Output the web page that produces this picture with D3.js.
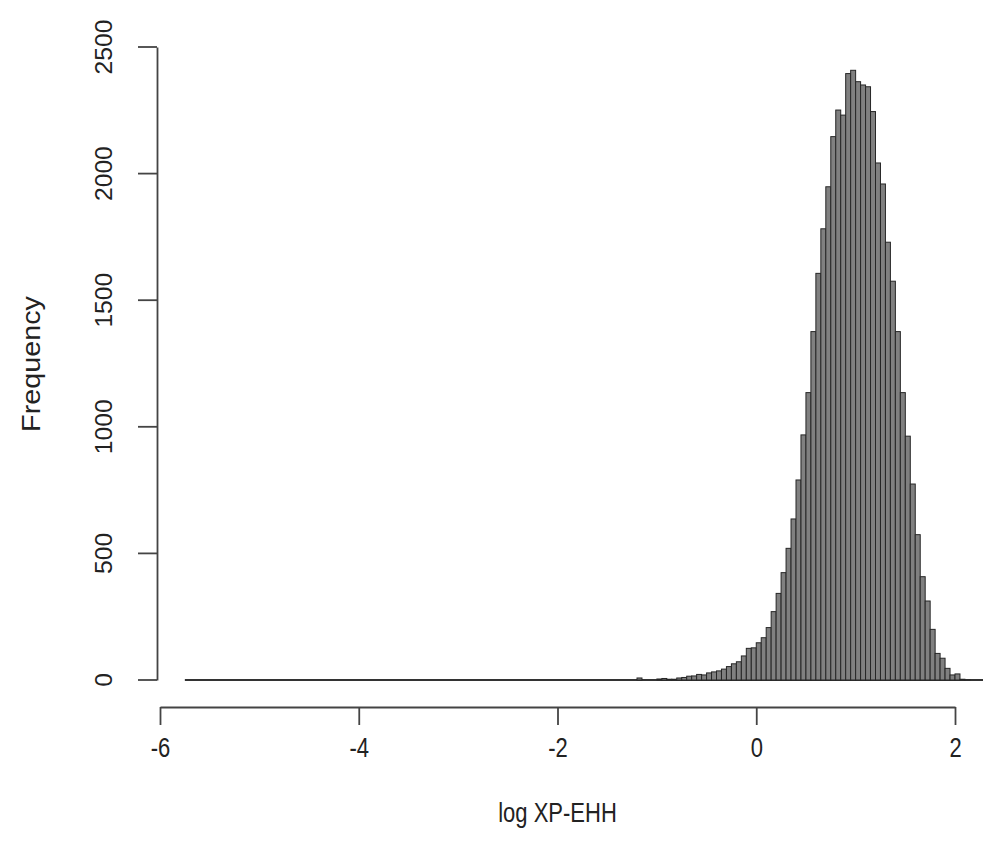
<!DOCTYPE html>
<meta charset="utf-8">
<head>
    <style>
        body {margin: 0; background: #fff;}
        text {fill: #222; font-family: "Liberation Sans", Arial, sans-serif;}
        .bar {fill: #808080; stroke: #262626; stroke-width: 1;}
        .axis line, .axis path {stroke: #444; stroke-width: 1.8; fill: none;}
    </style>
    <script src="https://d3js.org/d3.v7.min.js"></script>
</head>
<body>
</body>

<script>

    // lower edge of each non-empty bin (width 0.05)
    var binLow = [-1.2, -1.15, -1.1, -1.05, -1.0, -0.95, -0.9, -0.85, -0.8, -0.75,
        -0.7, -0.65, -0.6, -0.55, -0.5, -0.45, -0.4, -0.35, -0.3, -0.25,
        -0.2, -0.15, -0.1, -0.05, 0.0, 0.05, 0.1, 0.15, 0.2, 0.25,
        0.3, 0.35, 0.4, 0.45, 0.5, 0.55, 0.6, 0.65, 0.7, 0.75,
        0.8, 0.85, 0.9, 0.95, 1.0, 1.05, 1.1, 1.15, 1.2, 1.25,
        1.3, 1.35, 1.4, 1.45, 1.5, 1.55, 1.6, 1.65, 1.7, 1.75,
        1.8, 1.85, 1.9, 1.95, 2.0, 2.05, 2.1];

    var counts = [8, 0, 0, 0, 4, 6, 3, 3, 8, 10,
        15, 16, 22, 20, 28, 32, 36, 43, 53, 64,
        72, 95, 125, 127, 147, 167, 207, 270, 342, 424,
        520, 636, 790, 968, 1135, 1376, 1606, 1782, 1948, 2146,
        2251, 2231, 2395, 2408, 2363, 2350, 2343, 2245, 2042, 1959,
        1729, 1575, 1376, 1135, 963, 774, 574, 408, 312, 200,
        105, 86, 46, 20, 24, 3, 1];

    var binWidth = 0.05,
        histRange = [-5.75, 2.3];   // full span of breaks, empty bins drawn flat

    var xTicks = [-6, -4, -2, 0, 2],
        yTicks = [0, 500, 1000, 1500, 2000, 2500];

    var width = 983, height = 860,
        stretch = 1.25,    // text in the picture is taller than wide
        yStretch = 1.12;

    var x = d3.scaleLinear()
        .domain([-6, 2])
        .range([160, 955]);

    var y = d3.scaleLinear()
        .domain([0, 2500])
        .range([680, 47]);

    var svg = d3.select("body").append("svg")
        .attr("width", width)
        .attr("height", height)

    var bins = binLow.map(function(d, i) {return {x0: d, x1: d + binWidth, n: counts[i]}})

    // empty bins: zero height rects -> one flat line
    svg.append("line")
        .attr("x1", x(histRange[0]))
        .attr("x2", x(histRange[1]))
        .attr("y1", y(0))
        .attr("y2", y(0))
        .attr("stroke", "#333")
        .attr("stroke-width", 1.8)

    svg.append("g").selectAll("rect")
        .data(bins)
      .enter().append("rect")
        .attr("class", "bar")
        .attr("x", function(d) {return x(d.x0)})
        .attr("width", function(d) {return x(d.x1) - x(d.x0)})
        .attr("y", function(d) {return y(d.n)})
        .attr("height", function(d) {return y(0) - y(d.n)})

    var xAxis = svg.append("g")
        .attr("class", "axis")
        .attr("transform", "translate(0,707)")
        .call(d3.axisBottom(x).tickValues(xTicks).tickSize(18).tickSizeOuter(0))
    xAxis.selectAll("text")
        .attr("y", 0)
        .attr("dy", 0)
        .attr("transform", "translate(0,50) scale(1," + stretch + ")")
        .style("font-size", "22px")
        .style("fill", "#222")
        .text(function(d) {return d < 0 ? "-" + Math.abs(d) : d})

    var yAxis = svg.append("g")
        .attr("class", "axis")
        .attr("transform", "translate(157,0)")
        .call(d3.axisLeft(y).tickValues(yTicks).tickSize(19).tickSizeOuter(0).tickFormat(d3.format("d")))
    yAxis.selectAll(".tick").attr("transform", null)
    yAxis.selectAll(".tick line")
        .attr("y1", function(d) {return y(d)})
        .attr("y2", function(d) {return y(d)})
    yAxis.selectAll("text")
        .attr("x", 0)
        .attr("y", 0)
        .attr("dy", 0)
        .attr("text-anchor", "middle")
        .attr("transform", function(d) {return "translate(-45," + y(d) + ") rotate(-90) scale(" + yStretch + ",1.1)"})
        .style("font-size", "22px")
        .style("fill", "#222")

    svg.append("text")
        .attr("transform", "translate(" + x(-2) + ",822) scale(1," + stretch + ")")
        .attr("text-anchor", "middle")
        .style("font-size", "22px")
        .text("log XP-EHH")

    svg.append("text")
        .attr("transform", "translate(40,364) rotate(-90) scale(" + stretch + ",1.1)")
        .attr("text-anchor", "middle")
        .style("font-size", "23px")
        .text("Frequency")

</script>
